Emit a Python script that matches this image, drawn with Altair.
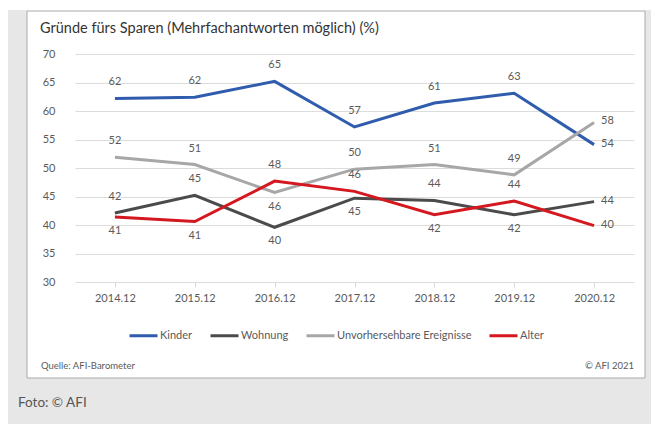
import altair as alt
import pandas as pd

years = ["2014.12", "2015.12", "2016.12", "2017.12", "2018.12", "2019.12", "2020.12"]
series = ["Kinder", "Wohnung", "Unvorhersehbare Ereignisse", "Alter"]
colors = ["#2f5cad", "#4b4b4b", "#a7a7a9", "#d5171f"]

kinder = [62.2, 62.4, 65.2, 57.2, 61.4, 63.1, 54.1]
wohnung = [42.1, 45.2, 39.6, 44.7, 44.3, 41.8, 44.1]
unvorh = [51.9, 50.6, 45.7, 49.8, 50.6, 48.8, 58.0]
alter = [41.4, 40.6, 47.7, 45.9, 41.8, 44.2, 39.9]

kinder_pos = ["above", "above", "above", "above", "above", "above", "right"]
wohnung_pos = ["above", "above", "below", "below", "above", "below", "right"]
unvorh_pos = ["above", "above", "below", "above", "above", "above", "right"]
alter_pos = ["below", "below", "above", "above", "below", "above", "right"]

y_ticks = [30, 35, 40, 45, 50, 55, 60, 65, 70]

title_text = "Gründe fürs Sparen (Mehrfachantworten möglich) (%)"
source_text = "Quelle: AFI-Barometer"
copy_text = "© AFI 2021"
foto_text = "Foto: © AFI"

rows = []
for name, vals, pos in [
    ("Kinder", kinder, kinder_pos),
    ("Wohnung", wohnung, wohnung_pos),
    ("Unvorhersehbare Ereignisse", unvorh, unvorh_pos),
    ("Alter", alter, alter_pos),
]:
    for y, v, p in zip(years, vals, pos):
        rows.append({"year": y, "series": name, "value": v, "pos": p})
df = pd.DataFrame(rows)

FONT = "Lato"
LABEL_COLOR = "#5a5a5a"
GREY = "#e7e7e7"

one = pd.DataFrame({"a": [0]})


def band(x1, x2, y1, y2, fill):
    return alt.Chart(one).mark_rect(fill=fill).encode(
        x=alt.value(x1), x2=alt.value(x2), y=alt.value(y1), y2=alt.value(y2)
    )


grey_left = band(-67, -48, -44, 372, GREY)
grey_right = band(570, 578, -44, 372, GREY)
grey_bottom = band(-67, 578, 324, 372, GREY)
panel_border = alt.Chart(one).mark_rect(fill=None, stroke="#a9a9a9", strokeWidth=1).encode(
    x=alt.value(-48), x2=alt.value(570), y=alt.value(-43), y2=alt.value(324)
)

x_enc = alt.X(
    "year:N",
    sort=years,
    scale=alt.Scale(type="point", padding=0.5),
    axis=alt.Axis(
        title=None, labelAngle=0, domain=False, grid=False, ticks=True, tickSize=5,
        tickColor="#d9d9d9", labelPadding=5, labelFontSize=11, labelColor=LABEL_COLOR,
        labelFont=FONT,
    ),
)
y_enc = alt.Y(
    "value:Q",
    scale=alt.Scale(domain=[30, 70], nice=False, zero=False),
    axis=alt.Axis(
        title=None, values=y_ticks, tickCount=9, domain=False, ticks=False, labelOverlap=False,
        grid=True, gridColor="#dcdcdc", gridWidth=1, labelPadding=20, labelFontSize=11,
        labelColor=LABEL_COLOR, labelFont=FONT,
    ),
)

lines = alt.Chart(df).mark_line(strokeWidth=3).encode(
    x=x_enc,
    y=y_enc,
    color=alt.Color(
        "series:N",
        scale=alt.Scale(domain=series, range=colors),
        legend=alt.Legend(
            title=None, orient="none", legendX=53, legendY=266, direction="horizontal",
            columns=4, symbolType="stroke", symbolSize=784, symbolStrokeWidth=3,
            labelFontSize=11, labelColor=LABEL_COLOR, labelFont=FONT, labelOffset=1,
            columnPadding=11,
        ),
    ),
    detail="series:N",
)


def labels(pos, **kw):
    return alt.Chart(df).transform_filter(alt.datum.pos == pos).mark_text(
        font=FONT, fontSize=11, color=LABEL_COLOR, **kw
    ).encode(
        x=x_enc,
        y=y_enc,
        text=alt.Text("value:Q", format=".0f"),
    )


lab_above = labels("above", dy=-16, baseline="middle", align="center")
lab_below = labels("below", dy=14, baseline="middle", align="center")
lab_right = labels("right", dx=7, dy=-1, baseline="middle", align="left")

title = alt.Chart(one).mark_text(
    text=title_text, font=FONT, fontSize=14.5, color="#333333", align="left", baseline="alphabetic"
).encode(x=alt.value(-35), y=alt.value(-21))

source = alt.Chart(one).mark_text(
    text=source_text, font=FONT, fontSize=9.5, color="#5a5a5a", align="left", baseline="alphabetic"
).encode(x=alt.value(-34), y=alt.value(315))

copy = alt.Chart(one).mark_text(
    text=copy_text, font=FONT, fontSize=9.5, color="#5a5a5a", align="right", baseline="alphabetic"
).encode(x=alt.value(559), y=alt.value(315))

foto = alt.Chart(one).mark_text(
    text=foto_text, font=FONT, fontSize=13.5, color="#555555", align="left", baseline="alphabetic"
).encode(x=alt.value(-57), y=alt.value(353))

chart = alt.layer(
    grey_left, grey_right, grey_bottom, panel_border, lines,
    lab_above, lab_below, lab_right, title, source, copy, foto
).properties(
    width=559,
    height=228,
    autosize=alt.AutoSizeParams(type="none"),
    padding={"left": 67, "top": 46, "right": 17, "bottom": 142},
    background="white",
).configure_view(stroke=None)

chart.save("out.html", embed_options={"renderer": "svg", "actions": False})
